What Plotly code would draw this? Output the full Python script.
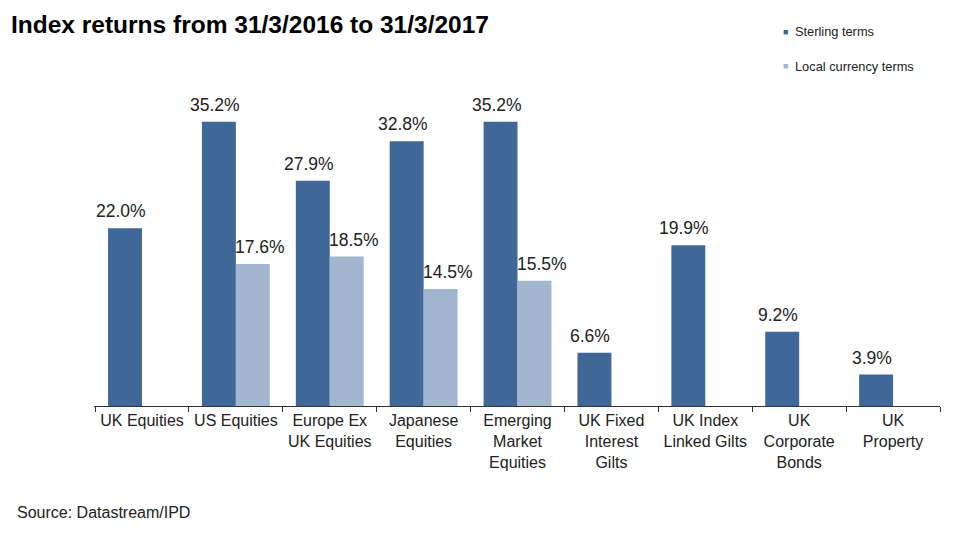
import plotly.graph_objects as go

categories = ["UK Equities", "US Equities", "Europe Ex<br>UK Equities", "Japanese<br>Equities",
              "Emerging<br>Market<br>Equities", "UK Fixed<br>Interest<br>Gilts", "UK Index<br>Linked Gilts",
              "UK<br>Corporate<br>Bonds", "UK<br>Property"]
sterling = [22.0, 35.2, 27.9, 32.8, 35.2, 6.6, 19.9, 9.2, 3.9]
local = [None, 17.6, 18.5, 14.5, 15.5, None, None, None, None]
series_names = ["Sterling terms", "Local currency terms"]

DARK = "#3F6899"
LIGHT = "#A2B6CF"
FONT = "Liberation Sans, Arial, sans-serif"

fig = go.Figure()
for vals, col, nm in [(sterling, DARK, series_names[0]), (local, LIGHT, series_names[1])]:
    fig.add_trace(go.Bar(x=categories, y=vals, marker=dict(color=col, line=dict(width=0)),
                         showlegend=False, name=nm))

# data labels (annotations, slightly spread apart as in the original)
for vals, xs in [(sterling, -21), (local, 24)]:
    for c, v in zip(categories, vals):
        if v is None:
            continue
        fig.add_annotation(x=c, y=v, text=f"{v:.1f}%", showarrow=False, xanchor="center",
                           yanchor="bottom", xshift=xs, yshift=5,
                           font=dict(size=17.5, color="#222222", family=FONT))

# page is rendered with an 8px body margin, so figure coords are offset by -8
fig.update_layout(
    width=955, height=533, autosize=False,
    margin=dict(l=86, r=23, t=75, b=135),
    plot_bgcolor="white", paper_bgcolor="white",
    barmode="group", bargap=0.277, bargroupgap=0,
    font=dict(family=FONT, color="#222222"),
    title=dict(text="<b>Index returns from 31/3/2016 to 31/3/2017</b>", x=3/955, xanchor="left",
               y=1 - 16/533, yanchor="middle", font=dict(size=24.5, color="black", family=FONT)),
    showlegend=False,
    xaxis=dict(showline=True, linecolor="#333333", linewidth=1, ticks="outside", tickson="boundaries",
               ticklen=5, tickcolor="#333333", tickfont=dict(size=16, color="#222222"),
               showgrid=False, tickangle=0),
    yaxis=dict(range=[0, 40], visible=False, showgrid=False),
)

# legend drawn as annotations
for i, (nm, col) in enumerate(zip(series_names, [DARK, LIGHT])):
    yc = (406 - [32, 66][i]) / 323
    fig.add_annotation(text="■", xref="paper", yref="paper", x=(785 - 94) / 846, y=yc,
                       xanchor="center", yanchor="middle", showarrow=False,
                       font=dict(size=9, color=col))
    fig.add_annotation(text=nm, xref="paper", yref="paper", x=(793 - 94) / 846, y=yc,
                       xanchor="left", yanchor="middle", showarrow=False,
                       font=dict(size=12.8, color="#222222"))

fig.add_annotation(text="Source: Datastream/IPD", xref="paper", yref="paper", x=-79/846, y=-106/323,
                   xanchor="left", yanchor="middle", showarrow=False, font=dict(size=16, color="#222222"))

fig.write_html("out.html")
